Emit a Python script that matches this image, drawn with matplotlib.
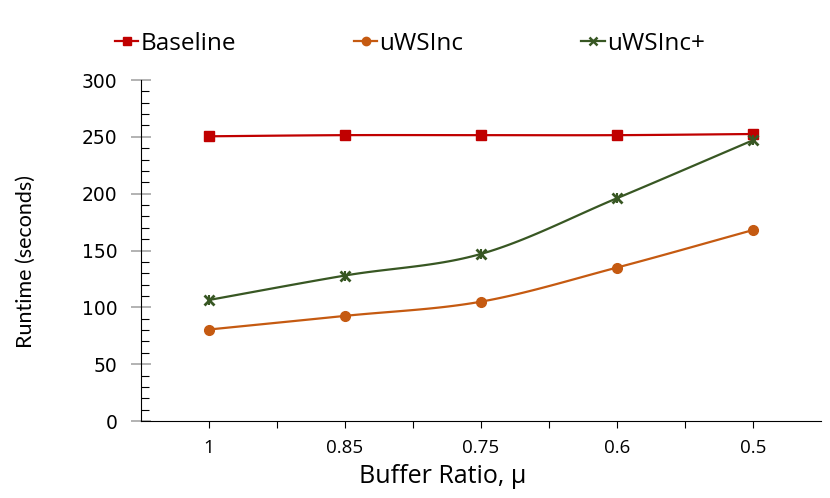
import numpy as np
import matplotlib
matplotlib.use("Agg")
import matplotlib.pyplot as plt
from matplotlib.ticker import MultipleLocator, FixedLocator

# data
ratios = ["1", "0.85", "0.75", "0.6", "0.5"]
baseline = [250.5, 251.5, 251.5, 251.5, 252.5]
uwsinc = [80.5, 92.5, 105, 135, 168]
uwsinc_plus = [106.5, 128, 147, 196, 247]


def smooth(x, y, n=30):
    # catmull-rom curve through the points (like excel's smoothed line)
    x = np.asarray(x, float)
    y = np.asarray(y, float)
    px = np.concatenate([[2 * x[0] - x[1]], x, [2 * x[-1] - x[-2]]])
    py = np.concatenate([[2 * y[0] - y[1]], y, [2 * y[-1] - y[-2]]])
    xs, ys = [], []
    t = np.linspace(0, 1, n)
    for i in range(1, len(px) - 2):
        for p, out in ((px, xs), (py, ys)):
            p0, p1, p2, p3 = p[i - 1], p[i], p[i + 1], p[i + 2]
            c1 = p1 + (p2 - p0) / 6
            c2 = p2 - (p3 - p1) / 6
            out.extend((1 - t) ** 3 * p1 + 3 * (1 - t) ** 2 * t * c1
                       + 3 * (1 - t) * t ** 2 * c2 + t ** 3 * p2)
    return xs, ys


fig = plt.figure(figsize=(8.3, 4.98), dpi=100)
ax = fig.add_axes([0.170, 0.1546, 0.819, 0.6847])

xpos = np.arange(1, len(ratios) + 1)
series = [
    (baseline, "Baseline", "#C00000", "s", 7),
    (uwsinc, "uWSInc", "#C55A11", "o", 7),
    (uwsinc_plus, "uWSInc+", "#385723", "x", 7),
]
for vals, name, col, mk, ms in series:
    sx, sy = smooth(xpos, vals)
    ax.plot(sx, sy, color=col, lw=1.6, zorder=2)
    ax.plot(xpos, vals, ls="none", marker=mk, color=col, ms=ms,
            mew=2 if mk == "x" else 1, zorder=3)
    ax.plot([], [], color=col, lw=1.6, marker=mk, ms=6,
            mew=1.8 if mk == "x" else 1, label=name)
# the star marker of uWSInc+ : add a plus on top of the x
ax.plot(xpos, uwsinc_plus, ls="none", marker="|", color="#385723", ms=7, mew=1.5, zorder=3)

ax.set_xlim(0.5, 5.5)
ax.set_ylim(0, 300)
ax.spines["top"].set_visible(False)
ax.spines["right"].set_visible(False)
ax.spines["left"].set_color("#000000")
ax.spines["bottom"].set_color("#000000")

ax.set_xticks(xpos)
ax.set_xticklabels(ratios, fontsize=13.5, family="Open Sans")
ax.xaxis.set_minor_locator(FixedLocator([1.5, 2.5, 3.5, 4.5]))
ax.tick_params(axis="x", which="both", direction="out", length=5, width=0.8,
               color="#000000", pad=8)

ax.yaxis.set_major_locator(MultipleLocator(50))
ax.yaxis.set_minor_locator(MultipleLocator(10))
ax.tick_params(axis="y", which="major", direction="inout", length=14, width=1.2,
               color="#A6A6A6", labelsize=13.5, pad=10)
ax.tick_params(axis="y", which="minor", direction="in", length=6, width=0.8,
               color="#000000")

ax.set_xlabel("Buffer Ratio, \u03bc", fontsize=18, family="Open Sans")
ax.xaxis.set_label_coords(0.444, -0.125)
ax.set_ylabel("Runtime (seconds)", fontsize=15.5, family="Lato")
ax.yaxis.set_label_coords(-0.155, 0.469)

fig.legend(loc="center left", bbox_to_anchor=(0.127, 0.912), ncol=3, frameon=False,
           prop={"family": "Open Sans", "size": 17.5}, handlelength=0.95,
           handletextpad=0.1, columnspacing=4.85, borderaxespad=0)

fig.savefig("out.png", dpi=100)
